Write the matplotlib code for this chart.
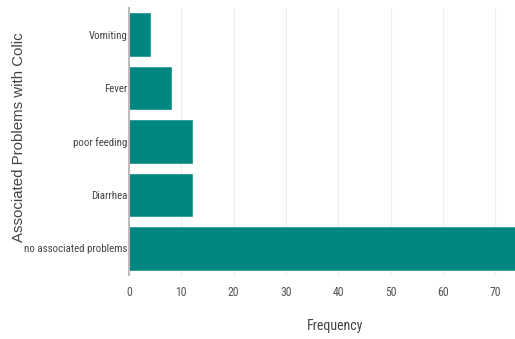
import matplotlib
matplotlib.use("Agg")
import matplotlib.pyplot as plt

categories = ["no associated problems", "Diarrhea", "poor feeding", "Fever", "Vomiting"]
values = [74, 12, 12, 8, 4]
xticks = [0, 10, 20, 30, 40, 50, 60, 70]

narrow = ["Roboto Condensed", "Liberation Sans"]

W, H = 515, 339
fig = plt.figure(figsize=(W/100, H/100), dpi=100)
ax = fig.add_axes([129/W, 1-275/H, (515-129)/W, (275-8)/H])

ax.barh(categories, values, height=0.8, color="#008681", edgecolor="#2a9a96", linewidth=0.6, zorder=2)
ax.set_xlim(0, 73.8)
ax.set_ylim(-0.5, 4.5)
ax.set_xticks(xticks)
ax.set_xticklabels([str(t) for t in xticks], fontfamily=narrow, fontsize=8.5, color="#555555")
ax.tick_params(axis="x", length=0, pad=8)
ax.tick_params(axis="y", length=0, pad=1)
for lbl in ax.get_yticklabels():
    lbl.set_fontfamily(narrow)
    lbl.set_fontsize(7.8)
    lbl.set_color("#444444")
ax.grid(axis="x", color="#eeeeee", linewidth=0.8, zorder=0)
ax.grid(axis="y", visible=False)
for s in ["top", "right", "bottom"]:
    ax.spines[s].set_visible(False)
ax.spines["left"].set_color("#bbbbbb")
ax.spines["left"].set_linewidth(1.5)
ax.spines["left"].set_zorder(3)

fig.text(335/W, 1-326/H, "Frequency", ha="center", va="center", fontfamily=narrow, fontsize=10, color="#444444")
fig.text(19/W, 1-137/H, "Associated Problems with Colic", ha="center", va="center", rotation=90,
         fontfamily="Liberation Sans", fontsize=10.8, color="#444444")

fig.savefig("out.png", dpi=100)
